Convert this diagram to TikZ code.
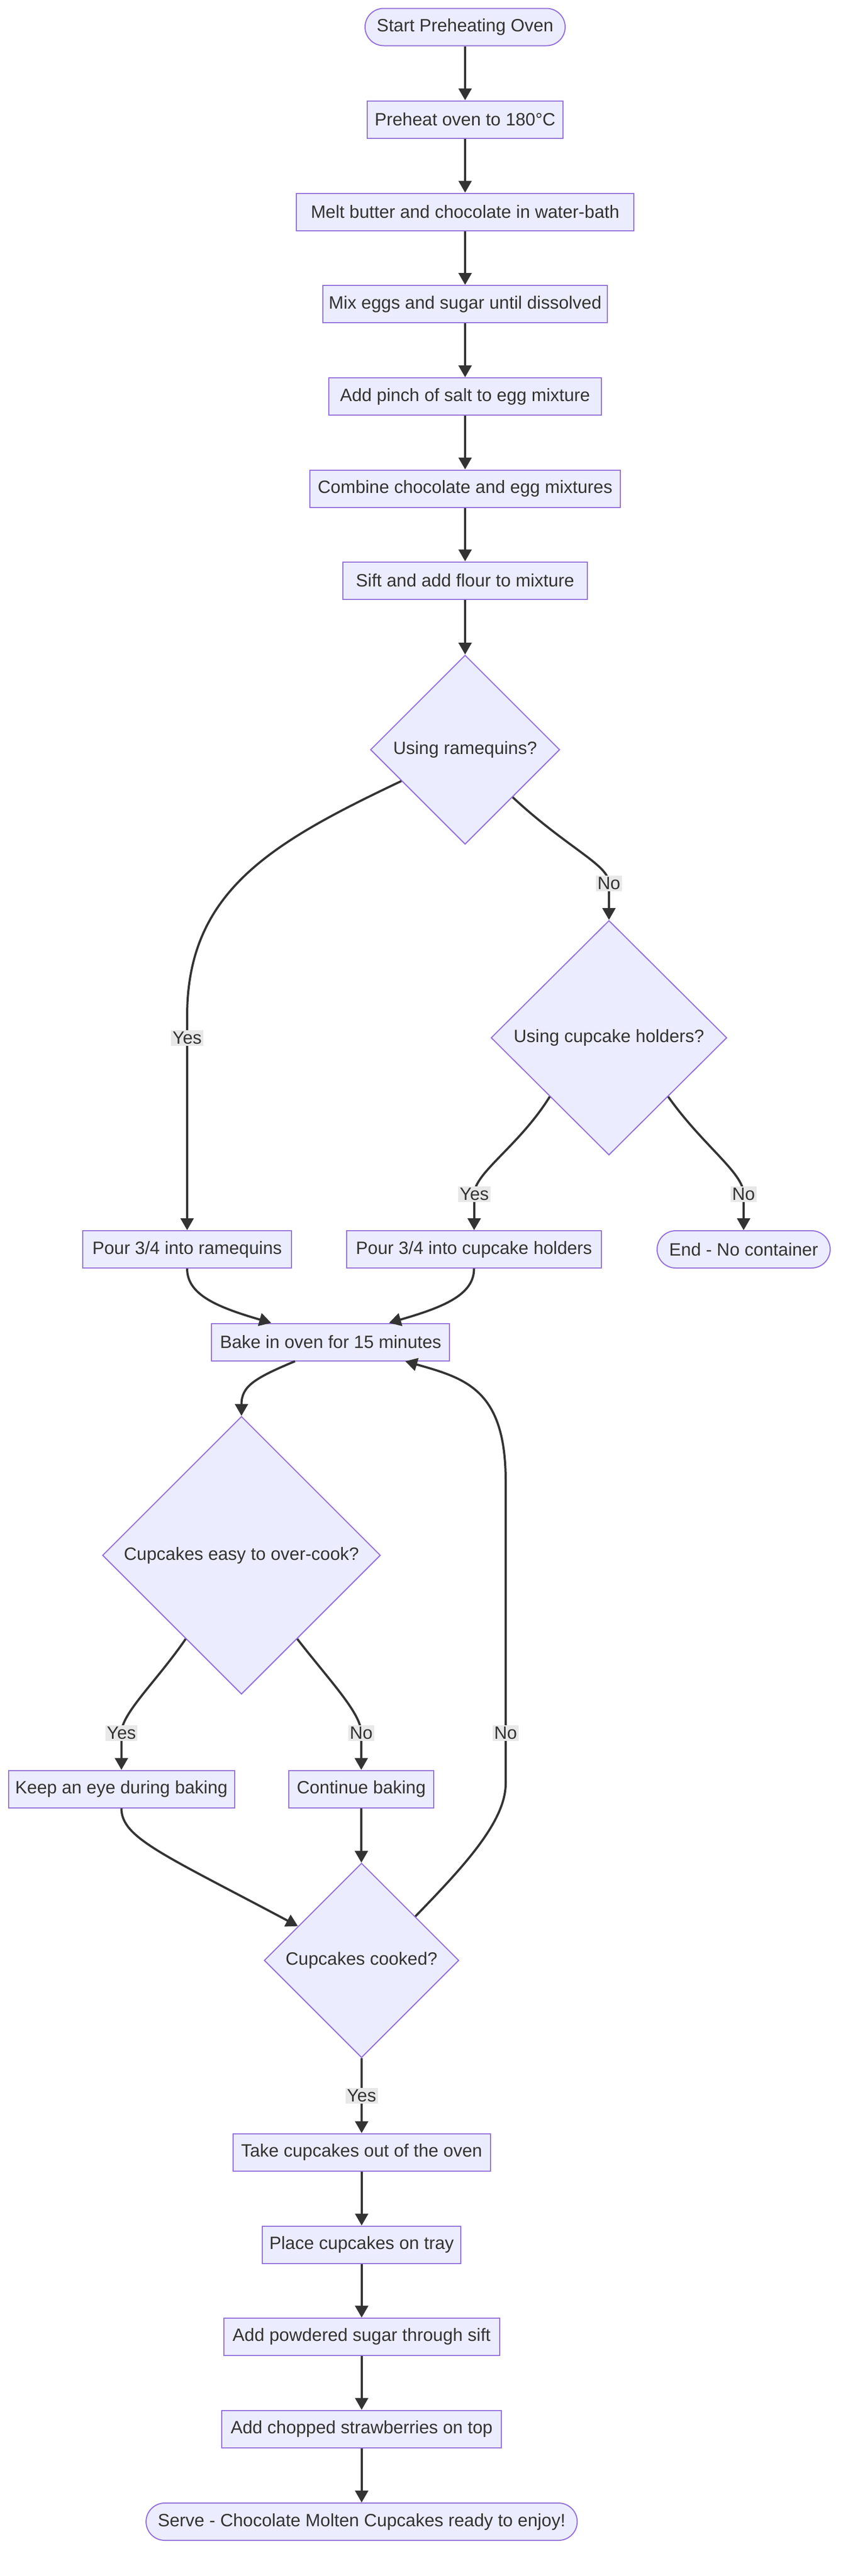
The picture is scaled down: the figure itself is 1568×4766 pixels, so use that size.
\documentclass[tikz,border=0pt]{standalone}
\usepackage{fontspec}
\setmainfont{Liberation Sans}
\usetikzlibrary{shapes.geometric,arrows.meta,calc}
\definecolor{boxfill}{HTML}{ECECFF}
\definecolor{boxline}{HTML}{9370DB}
\definecolor{ink}{HTML}{333333}
\definecolor{labelgray}{HTML}{E8E8E8}

\begin{document}
\begin{tikzpicture}[x=0.5pt, y=-0.5pt,
    every node/.style={font=\fontsize{16.5}{20}\selectfont, text=ink},
    stepbox/.style={draw=boxline, fill=boxfill, line width=1pt, minimum height=34.5pt, inner xsep=4pt},
    endbox/.style={stepbox, rounded corners=17.25pt},
    choice/.style={diamond, aspect=1, draw=boxline, fill=boxfill, line width=1pt, inner sep=0pt},
    lbl/.style={fill=labelgray, inner sep=1.5pt},
    flow/.style={draw=ink, line width=2pt, -{Triangle[length=11pt,width=12pt]}}]

    \path[use as bounding box, fill=white] (0,0) rectangle (1568,4766);

    % preparation
    \node[endbox, minimum width=185pt] (start) at (860,50) {Start Preheating Oven};
    \node[stepbox, minimum width=181pt] (preheat) at (860,221) {Preheat oven to 180°C};
    \node[stepbox, minimum width=312pt] (melt) at (860,392) {Melt butter and chocolate in water-bath};
    \node[stepbox, minimum width=262.7pt] (mix) at (860,562.5) {Mix eggs and sugar until dissolved};
    \node[stepbox, minimum width=252pt] (salt) at (860,733.5) {Add pinch of salt to egg mixture};
    \node[stepbox, minimum width=286.7pt] (combine) at (860,904) {Combine chocolate and egg mixtures};
    \node[stepbox, minimum width=226pt] (flour) at (860,1074) {Sift and add flour to mixture};

    % containers
    \node[choice, minimum width=175pt, minimum height=175pt] (ramq) at (860,1387) {Using ramequins?};
    \node[choice, minimum width=218pt, minimum height=217pt] (holders) at (1126,1920) {Using cupcake holders?};
    \node[stepbox, minimum width=193pt] (pourram) at (346,2311.5) {Pour 3/4 into ramequins};
    \node[stepbox, minimum width=235.5pt] (pourcup) at (876.5,2311.5) {Pour 3/4 into cupcake holders};
    \node[endbox, minimum width=160pt] (nocont) at (1375,2311.5) {End - No container};

    % baking
    \node[stepbox, minimum width=220pt] (bake) at (611.4,2483) {Bake in oven for 15 minutes};
    \node[choice, minimum width=257pt, minimum height=257pt] (overcook) at (446.5,2877.5) {Cupcakes easy to over-cook?};
    \node[stepbox, minimum width=209pt] (watch) at (224.5,3310) {Keep an eye during baking};
    \node[stepbox, minimum width=133.7pt] (keepon) at (668,3310) {Continue baking};
    \node[choice, minimum width=180pt, minimum height=180pt] (cooked) at (668.5,3627) {Cupcakes cooked?};

    % serving
    \node[stepbox, minimum width=237.9pt] (takeout) at (668.7,3982) {Take cupcakes out of the oven};
    \node[stepbox, minimum width=183.7pt] (tray) at (668.7,4153) {Place cupcakes on tray};
    \node[stepbox, minimum width=254.8pt] (sugar) at (668.7,4323.4) {Add powdered sugar through sift};
    \node[stepbox, minimum width=258.6pt] (berries) at (668.7,4494) {Add chopped strawberries on top};
    \node[endbox, minimum width=398.6pt] (serve) at (668.7,4665.5) {Serve - Chocolate Molten Cupcakes ready to enjoy!};

    \draw[flow] (start) -- (preheat);
    \draw[flow] (preheat) -- (melt);
    \draw[flow] (melt) -- (mix);
    \draw[flow] (mix) -- (salt);
    \draw[flow] (salt) -- (combine);
    \draw[flow] (combine) -- (flour);
    \draw[flow] (flour) -- (ramq);

    \draw[flow] ($(ramq.west)!0.33!(ramq.south)$) .. controls (500,1560) and (346,1650) .. (346,1880) -- (346,1920) node[lbl] {Yes} -- (pourram);
    \draw[flow] (ramq.south east) .. controls (1050,1570) and (1126,1600) .. (1126,1634) node[lbl] {No} -- (holders);
    \draw[flow] (holders.south west) .. controls (960,2120) and (877,2170) .. (877,2209) node[lbl] {Yes} -- (pourcup);
    \draw[flow] (holders.south east) .. controls (1300,2120) and (1375,2170) .. (1375,2209) node[lbl] {No} -- (nocont);

    \draw[flow] (pourram.south) .. controls (346,2395) and (400,2418) .. ([xshift=-55pt]bake.north);
    \draw[flow] (pourcup.south) .. controls (876.5,2395) and (822,2418) .. ([xshift=54pt]bake.north);
    \draw[flow] ([xshift=-33pt]bake.south) .. controls (470,2550) and (446.5,2565) .. (overcook.north);
    \draw[flow] ($(overcook.west)!0.6!(overcook.south)$) .. controls (290,3110) and (224.5,3170) .. (224.5,3206) node[lbl] {Yes} -- (watch);
    \draw[flow] ($(overcook.east)!0.6!(overcook.south)$) .. controls (610,3110) and (668,3170) .. (668,3206) node[lbl] {No} -- (keepon);
    \draw[flow] (keepon) -- (cooked);
    \draw[flow] (watch.south) .. controls (224.5,3400) and (300,3430) .. ($(cooked.west)!0.35!(cooked.north)$);
    \draw[flow] ($(cooked.north)!0.55!(cooked.east)$) .. controls (857,3454) and (935,3370) .. (935,3300) -- (935,3206) node[lbl] {No} -- (935,2740) .. controls (935,2570) and (860,2550) .. ([xshift=69pt]bake.south);

    \draw[flow] (cooked) -- node[lbl] {Yes} (takeout);
    \draw[flow] (takeout) -- (tray);
    \draw[flow] (tray) -- (sugar);
    \draw[flow] (sugar) -- (berries);
    \draw[flow] (berries) -- (serve);
\end{tikzpicture}
\end{document}
